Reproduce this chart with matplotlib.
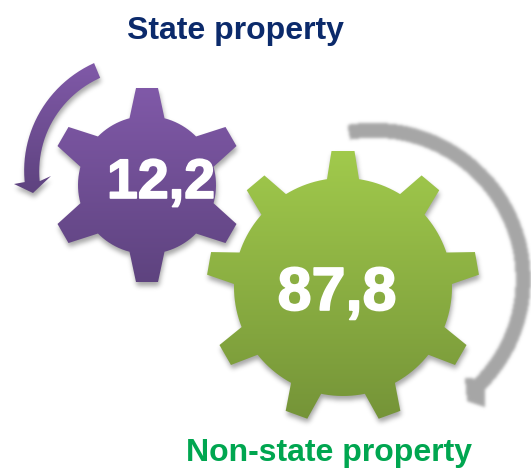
import numpy as np
import matplotlib
matplotlib.use("Agg")
import matplotlib.pyplot as plt
import matplotlib.patheffects as pe
from matplotlib.path import Path
from matplotlib.patches import PathPatch
from matplotlib.colors import to_rgb

# Data
categories = ["State property", "Non-state property"]
values = [12.2, 87.8]

plt.rcParams['font.family'] = ['Liberation Sans', 'DejaVu Sans']

W, H = 531, 468
fig = plt.figure(figsize=(W / 100, H / 100), dpi=100)
ax = fig.add_axes([0, 0, 1, 1])
ax.set_xlim(0, W)
ax.set_ylim(H, 0)
ax.axis('off')

gx, gy = np.meshgrid(np.arange(W) + 0.5, np.arange(H) + 0.5)
grid = np.c_[gx.ravel(), gy.ravel()]


def gear_points(cx, cy, r, R, n, base_w, tip_w):
    pts = []
    step = 2 * np.pi / n
    for i in range(n):
        a = -np.pi / 2 + i * step
        da = np.arcsin(base_w / r)
        u = np.array([np.cos(a), np.sin(a)])
        v = np.array([-u[1], u[0]])
        c = np.array([cx, cy])
        pts.append(c + r * np.array([np.cos(a - da), np.sin(a - da)]))
        pts.append(c + R * u - tip_w * v)
        pts.append(c + R * u + tip_w * v)
        pts.append(c + r * np.array([np.cos(a + da), np.sin(a + da)]))
        for t in np.linspace(a + da, a + step - da, 30)[1:-1]:
            pts.append(c + r * np.array([np.cos(t), np.sin(t)]))
    return np.array(pts)


def arrow_points(cx, cy, a0, a1, r0, r1, w0, w1, barb1, tip, barb2):
    t = np.radians(np.linspace(a0, a1, 80))
    r = np.linspace(r0, r1, 80)
    w = np.linspace(w0, w1, 80) / 2
    outer = np.c_[cx + (r + w) * np.cos(t), cy + (r + w) * np.sin(t)]
    inner = np.c_[cx + (r - w) * np.cos(t), cy + (r - w) * np.sin(t)]
    return np.vstack([outer, [barb1, tip, barb2], inner[::-1]])


def soft(pts, color, sigma, alpha, dx, dy, z):
    # blurred copy of a shape, used for shadows and the grey arrow
    mask = Path(pts + [dx, dy]).contains_points(grid).reshape(H, W).astype(float)
    x = np.arange(-int(3 * sigma) - 1, int(3 * sigma) + 2)
    kernel = np.exp(-x ** 2 / (2 * sigma ** 2))
    kernel /= kernel.sum()
    mask = np.apply_along_axis(lambda m: np.convolve(m, kernel, mode='same'), 0, mask)
    mask = np.apply_along_axis(lambda m: np.convolve(m, kernel, mode='same'), 1, mask)
    img = np.zeros((H, W, 4))
    img[..., :3] = to_rgb(color)
    img[..., 3] = mask * alpha
    ax.imshow(img, extent=[0, W, H, 0], aspect='auto', zorder=z, interpolation='bilinear')


def gradient_fill(pts, top, bottom, z):
    y0, y1 = pts[:, 1].min(), pts[:, 1].max()
    x0, x1 = pts[:, 0].min(), pts[:, 0].max()
    frac = np.linspace(0, 1, 256)[:, None, None]
    img = (1 - frac) * np.array(to_rgb(top)) + frac * np.array(to_rgb(bottom))
    im = ax.imshow(img, extent=[x0, x1, y1, y0], aspect='auto', zorder=z, interpolation='bilinear')
    patch = PathPatch(Path(np.vstack([pts, pts[0]])), transform=ax.transData, fc='none', ec='none')
    ax.add_patch(patch)
    im.set_clip_path(patch)


# Grey arrow round the big gear
grey = arrow_points(375, 281, -100, 44.4, 151, 147, 15, 15, (485, 407), (467, 401), (465, 378))
soft(grey, '#A6A6A6', 1.5, 1.0, 0, 0, 1)

# Purple arrow
purple = arrow_points(140, 175, 247.7, 176.5, 113, 108, 16, 15, (14, 184), (33, 193), (51, 176))
soft(purple, 'black', 2.5, 0.35, 1, 4, 2)
gradient_fill(purple, '#8059A8', '#5E437F', 3)

# Purple gear
gear1 = gear_points(147, 185, 69, 97, 6, 17.5, 11)
soft(gear1, 'black', 2.5, 0.35, 1, 4, 4)
gradient_fill(gear1, '#8059A8', '#5E437F', 5)

# Green gear
gear2 = gear_points(343, 287, 109, 136, 9, 16, 11.5)
soft(gear2, 'black', 2.5, 0.35, 1, 4, 6)
gradient_fill(gear2, '#A1CA4C', '#759438', 7)

ax.set_xlim(0, W)
ax.set_ylim(H, 0)

# Labels
bold = [pe.withStroke(linewidth=1.2, foreground='white')]
ax.text(235, 30.5, categories[0], color='#0B2A6B', fontsize=23, fontweight='bold', ha='center', va='center', zorder=9)
ax.text(329.5, 453, categories[1], color='#00A650', fontsize=23, fontweight='bold', ha='center', va='center', zorder=9)
ax.text(161, 198, f"{values[0]:.1f}".replace('.', ','), color='white', fontsize=40, fontweight='bold', ha='center', va='baseline', zorder=6, path_effects=bold)
ax.text(337, 310, f"{values[1]:.1f}".replace('.', ','), color='white', fontsize=44, fontweight='bold', ha='center', va='baseline', zorder=9, path_effects=bold)

fig.savefig('out.png', dpi=100, facecolor='white')
